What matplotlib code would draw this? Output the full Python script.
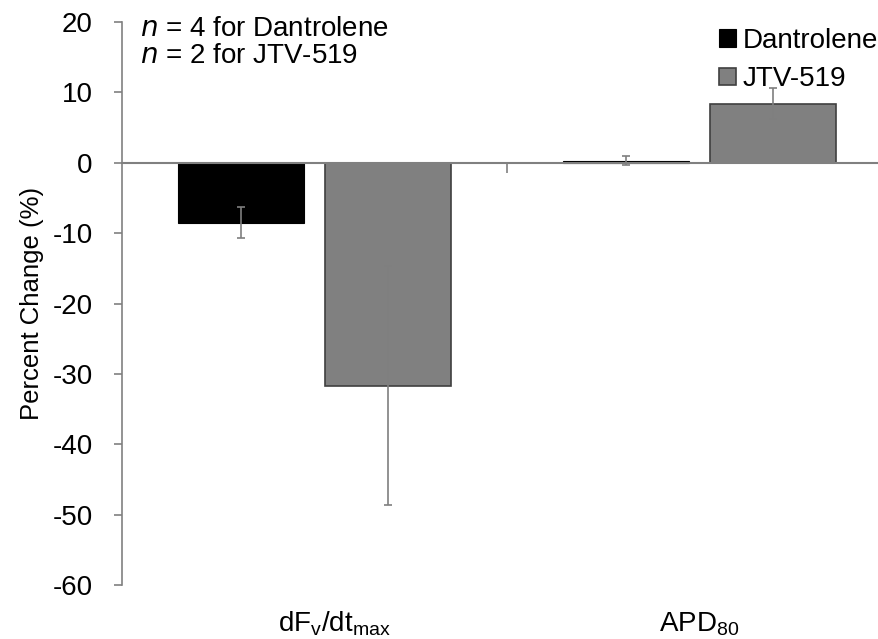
import matplotlib
matplotlib.use("Agg")
import matplotlib.pyplot as plt
import numpy as np

plt.rcParams['font.family'] = ['Liberation Sans', 'DejaVu Sans']
plt.rcParams['mathtext.default'] = 'regular'
plt.rcParams['axes.unicode_minus'] = False

categories = [r'dF$_{v}$/dt$_{max}$', r'APD$_{80}$']
dantrolene = [-8.5, 0.3]
dantrolene_err = [2.25, 0.6]
jtv519 = [-31.7, 8.4]
jtv519_err = [17.0, 2.2]
series_names = ['Dantrolene', 'JTV-519']

FS = 20

fig = plt.figure(figsize=(8.79, 6.39), dpi=100)
ax = fig.add_axes([122 / 879, 1 - 585 / 639, 757 / 879, (585 - 22) / 639])

x = np.arange(len(categories))
w = 0.327
off = 0.19
err_kw = dict(ecolor='#7f7f7f', elinewidth=1.2, capsize=3, capthick=1.2)
ax.bar(x - off, dantrolene, w, yerr=dantrolene_err, color='black',
       edgecolor='black', linewidth=0.8, label=series_names[0], error_kw=err_kw, zorder=2)
ax.bar(x + off, jtv519, w, yerr=jtv519_err, color='#808080',
       edgecolor='#404040', linewidth=1.2, label=series_names[1], error_kw=err_kw, zorder=2)

ax.set_xlim(-0.5, -0.5 + 757 / 385)
ax.set_ylim(-60, 20)
ax.set_yticks(np.arange(-60, 21, 10))
ax.tick_params(axis='y', labelsize=FS, direction='out', length=6, color='#808080', width=1.2, pad=15)

for s in ['top', 'right']:
    ax.spines[s].set_visible(False)
ax.spines['left'].set_color('#808080')
ax.spines['left'].set_linewidth(1.2)
ax.spines['bottom'].set_position(('data', 0))
ax.spines['bottom'].set_color('#808080')
ax.spines['bottom'].set_linewidth(1.5)
ax.spines['bottom'].set_zorder(3)

ax.set_xticks([0.5])
ax.set_xticklabels([''])
ax.tick_params(axis='x', direction='out', length=7, color='#808080', width=1.2)

# category names sit below the plot area; the first one is nudged right a little
label_shift = [14, 0]
for xi, lab, dx in zip(x, categories, label_shift):
    ax.annotate(lab, xy=(xi, -60), xycoords='data', xytext=(dx, -18),
                textcoords='offset points', ha='center', va='top', fontsize=FS)

ax.set_ylabel('Percent Change (%)', fontsize=18.5, labelpad=6)

ax.text(0.024, 1.01, '$\\it{n}$ = 4 for Dantrolene\n$\\it{n}$ = 2 for JTV-519',
        transform=ax.transAxes, ha='left', va='top', fontsize=FS, linespacing=1.05)

leg = ax.legend(loc='upper left', bbox_to_anchor=(0.789, 0.99), frameon=False, fontsize=FS,
                handlelength=0.6, handleheight=0.6, handletextpad=0.25, labelspacing=0.45,
                borderaxespad=0.0, borderpad=0.0)

fig.savefig('out.png', dpi=100)
